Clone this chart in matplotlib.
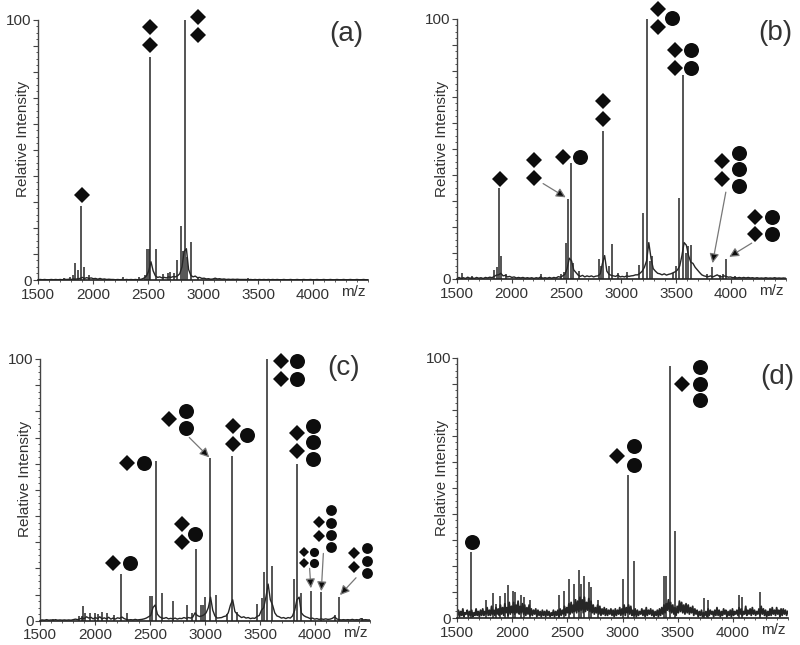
import numpy as np
import matplotlib
matplotlib.use("Agg")
import matplotlib.pyplot as plt
from matplotlib.ticker import MultipleLocator, FixedLocator

plt.rcParams['font.family'] = ['Liberation Sans', 'DejaVu Sans']

INK = '#262626'
TXT = '#333333'

# sticks (m/z, relative intensity)
mz_a = [1735, 1790, 1815, 1836, 1867, 1891, 1915, 1960, 2270, 2420, 2470, 2488, 2505, 2518, 2570,
        2640, 2680, 2700, 2735, 2760, 2797, 2821, 2836, 2855, 2891, 2950, 3410]
int_a = [0.8, 1.0, 1.8, 6.5, 4.0, 28.5, 5.0, 1.8, 1.0, 1.0, 2.0, 11.8, 11.8, 85.7, 12.0,
         2.2, 2.8, 3.0, 2.5, 7.5, 20.6, 11.0, 100, 9.0, 14.4, 1.2, 0.8]

mz_b = [1550, 1640, 1840, 1865, 1885, 1900, 1950, 2270, 2450, 2480, 2500, 2515, 2545, 2565, 2615, 2794, 2815, 2833,
        2888, 2912, 2970, 3050, 3166, 3203, 3236, 3262, 3279, 3470, 3500, 3527, 3563, 3590, 3606, 3639,
        3780, 3827, 3900, 3930, 3957, 4040]
int_b = [2.2, 1.0, 3.5, 4.5, 35, 9.0, 2.0, 2.0, 1.8, 2.5, 14, 30.6, 44.5, 6.0, 3.0, 7.5, 5.0, 57,
         5.0, 13.5, 2.2, 2.5, 5.5, 25.5, 100, 7.0, 9.0, 2.2, 5.0, 31, 78.5, 10, 12.5, 13.0,
         2.0, 4.5, 1.5, 2.0, 7.5, 1.0]

mz_c = [1620, 1850, 1880, 1894, 1910, 1950, 2000, 2030, 2065, 2110, 2170, 2233, 2290, 2503, 2521, 2551, 2612,
        2706, 2836, 2880, 2918, 2964, 2985, 3003, 3045, 3097, 3200, 3245, 3290, 3476, 3518, 3536, 3566,
        3612, 3809, 3833, 3873, 3964, 4057, 4180, 4218, 4430]
int_c = [0.8, 1.8, 1.8, 5.5, 3.0, 2.8, 2.8, 2.5, 3.5, 3.0, 2.0, 18, 3.0, 9.5, 9.5, 61, 10.5,
         7.5, 6.0, 3.0, 27.5, 6.0, 6.0, 9.0, 62, 10, 2.5, 63, 3.5, 6.5, 8.5, 18.5, 100,
         21, 16, 60, 10.5, 11.5, 11, 2.0, 9, 1.2]

mz_d = [1627, 1757, 1824, 1850, 1888, 1930, 1958, 2003, 2025, 2075, 2110, 2160, 2424, 2467, 2512, 2557, 2603, 2625, 2651, 2697, 2710,
        2780, 3009, 3048, 3100, 3373, 3394, 3427, 3479, 3736, 3780, 4057, 4087, 4245]
int_d = [25.3, 7.0, 9.5, 5.5, 8.5, 9.5, 12.5, 10.5, 10, 9.0, 8.0, 7.0, 9.0, 10.5, 15, 13, 18.5, 13, 16, 14, 12,
         7, 15, 55, 22, 16, 16, 97, 33.5, 7.5, 7, 9, 8, 10]

# baselines, one value every 20 m/z from 1500 (a, b, c) and every 10 m/z (d)
base_a = [0.1, 0.2, 0.1, 0.2, 0.1, 0.1, 0.2, 0.1, 0.2, 0.1,
          0.2, 0.1, 0.3, 0.2, 0.3, 0.2, 0.4, 0.3, 0.5, 0.6,
          1.0, 0.6, 0.9, 0.6, 0.8, 0.5, 0.6, 0.3, 0.6, 0.3,
          0.4, 0.2, 0.3, 0.2, 0.2, 0.1, 0.2, 0.1, 0.2, 0.1,
          0.2, 0.1, 0.2, 0.1, 0.2, 0.1, 0.2, 0.4, 0.8, 1.6,
          3.5, 7.0, 3.5, 1.6, 1.0, 1.2, 0.8, 1.0, 0.8, 1.2,
          1.0, 1.3, 1.2, 1.6, 2.4, 5.0, 11, 12, 4.0, 1.8,
          1.2, 1.5, 0.9, 1.0, 0.6, 0.7, 0.4, 0.5, 0.3, 0.4,
          0.7, 0.4, 0.5, 0.3, 0.4, 0.2, 0.3, 0.2, 0.3, 0.2,
          0.3, 0.2, 0.2, 0.2, 0.2, 0.1, 0.2, 0.1, 0.2, 0.1,
          0.2, 0.1, 0.2, 0.1, 0.2, 0.1, 0.2, 0.1, 0.2, 0.1,
          0.1, 0.2, 0.1, 0.1, 0.2, 0.1, 0.1, 0.2, 0.1, 0.1,
          0.2, 0.1, 0.1, 0.2, 0.1, 0.1, 0.2, 0.1, 0.1, 0.2,
          0.1, 0.1, 0.2, 0.1, 0.1, 0.2, 0.1, 0.1, 0.2, 0.1,
          0.1, 0.2, 0.1, 0.1, 0.2, 0.1, 0.1, 0.2, 0.1, 0.1]

base_b = [0.3, 0.6, 0.2, 0.5, 0.2, 0.7, 0.3, 0.5, 0.2, 0.6,
          0.3, 0.5, 0.2, 0.6, 0.4, 0.7, 0.5, 1.0, 1.5, 1.6,
          2.2, 1.2, 1.4, 0.8, 1.0, 0.6, 0.8, 0.4, 0.6, 0.4,
          0.6, 0.3, 0.5, 0.3, 0.5, 0.2, 0.5, 0.3, 0.8, 0.3,
          0.5, 0.3, 0.6, 0.3, 0.6, 0.4, 0.9, 0.7, 1.2, 1.8,
          4.0, 8.0, 7.0, 3.5, 2.5, 1.5, 1.0, 1.4, 0.8, 1.2,
          0.9, 1.2, 0.8, 1.1, 1.2, 2.0, 6.0, 9.0, 3.0, 1.8,
          1.4, 1.2, 1.0, 1.5, 0.8, 1.0, 0.8, 1.2, 1.0, 1.2,
          1.3, 1.6, 1.6, 2.2, 3.0, 4.5, 7.0, 14, 8.0, 4.0,
          3.0, 2.2, 2.0, 1.6, 2.0, 1.5, 1.8, 2.0, 2.4, 2.8,
          3.5, 5.0, 9.0, 14, 13, 9.0, 6.5, 6.0, 4.5, 3.5,
          2.5, 1.6, 1.2, 1.0, 0.9, 1.2, 0.8, 1.2, 1.6, 1.0,
          0.8, 1.2, 1.0, 0.7, 0.8, 0.5, 0.6, 0.4, 0.6, 0.4,
          0.6, 0.4, 0.6, 0.4, 0.5, 0.3, 0.5, 0.3, 0.4, 0.3,
          0.5, 0.3, 0.4, 0.3, 0.5, 0.3, 0.4, 0.3, 0.4, 0.3]

base_c = [0.2, 0.3, 0.2, 0.4, 0.2, 0.3, 0.2, 0.4, 0.2, 0.3,
          0.2, 0.3, 0.2, 0.3, 0.2, 0.4, 0.6, 0.4, 0.7, 1.0,
          0.8, 1.5, 1.0, 1.3, 0.7, 1.2, 0.8, 1.5, 0.7, 1.1,
          0.7, 1.3, 0.6, 1.0, 0.6, 1.1, 0.9, 1.4, 0.8, 0.5,
          0.3, 0.4, 0.3, 0.5, 0.3, 0.4, 0.5, 0.7, 1.0, 1.5,
          2.0, 5.0, 6.0, 2.5, 1.5, 1.0, 0.9, 1.2, 0.7, 0.9,
          0.7, 1.0, 0.6, 0.9, 0.8, 1.2, 0.9, 1.2, 1.0, 1.4,
          3.0, 2.0, 1.6, 1.8, 2.2, 3.0, 5.0, 9.0, 4.0, 1.8,
          1.0, 1.1, 1.2, 1.6, 1.8, 3.0, 6.0, 8.0, 3.5, 2.5,
          1.8, 1.2, 1.5, 1.0, 1.2, 0.8, 1.0, 0.9, 1.6, 2.0,
          4.0, 5.0, 9.0, 14, 8.0, 6.0, 3.0, 1.8, 1.5, 1.0,
          1.2, 0.8, 1.2, 1.0, 1.8, 4.0, 8.0, 9.0, 3.0, 2.0,
          1.5, 1.2, 0.8, 1.0, 0.6, 0.8, 0.5, 0.7, 0.5, 0.7,
          0.5, 0.6, 0.9, 1.5, 0.7, 0.4, 0.3, 0.4, 0.3, 0.4,
          0.3, 0.5, 0.3, 0.4, 0.3, 0.8, 0.3, 0.4, 0.3, 0.3]

base_d = [1, 3, 0.5, 2.5, 1, 3.5, 0.5, 2, 1.5, 3, 0.5, 2.5, 1, 3, 0.5, 2, 1, 3.5, 1, 2.5,
          0.5, 3, 1, 3.5, 1, 2.5, 1.5, 4, 1, 3, 1, 4.5, 1.5, 3, 1, 4, 1.5, 3.5, 1, 5,
          1.5, 4, 1, 5.5, 2, 4, 1, 6, 1.5, 4.5, 2, 6, 1.5, 5, 2, 6.5, 1.5, 4.5, 2, 5.5,
          1.5, 5, 1, 4, 1.5, 5, 1, 3.5, 1, 3, 1.5, 3.5, 0.5, 3, 1, 2.5, 0.5, 3, 1, 2.5,
          0.5, 3, 1, 2.5, 0.5, 2, 1, 3, 0.5, 2.5, 1, 3, 0.5, 3.5, 1, 3, 1.5, 4.5, 1, 4,
          2, 5.5, 1.5, 6, 2, 5, 2.5, 7, 2, 6.5, 2.5, 8, 3, 7, 2, 8, 2.5, 6, 3, 7.5,
          2.5, 6.5, 2, 5, 1.5, 4, 2, 5, 1.5, 4.5, 1, 3.5, 1.5, 4, 1, 3.5, 1, 3, 1.5, 3.5,
          1, 3, 0.5, 3.5, 1, 3, 1.5, 4, 1, 3.5, 1.5, 5, 1, 4, 2, 5, 1.5, 4.5, 1, 3,
          1, 3.5, 0.5, 3, 1, 2.5, 1.5, 3.5, 1, 3, 0.5, 4, 1, 3, 1.5, 3.5, 1, 3, 0.5, 2.5,
          1, 3, 0.5, 3.5, 1, 4, 1.5, 5, 2, 5.5, 3, 7, 2.5, 6, 2, 5, 1.5, 4, 1, 4.5,
          2, 6.5, 2.5, 6, 2, 5, 1.5, 5.5, 2, 5, 1.5, 4, 2, 4.5, 1, 3.5, 1.5, 3, 0.5, 2.5,
          1, 3, 0.5, 2, 1, 2.5, 0.5, 3.5, 1, 3, 1.5, 2.5, 0.5, 3, 1, 4, 1, 3, 0.5, 2.5,
          1, 3.5, 1.5, 3, 0.5, 2.5, 1, 3, 0.5, 3.5, 1, 2.5, 1.5, 3, 1, 4, 1.5, 3.5, 1, 2.5,
          1.5, 4.5, 1, 3, 1.5, 3.5, 1, 4, 1.5, 3, 1, 2.5, 1.5, 3.5, 1, 4.5, 1.5, 3.5, 1, 3,
          0.5, 2.5, 1, 3.5, 1, 4, 1.5, 3, 1, 4, 1.5, 3, 0.5, 3.5, 1, 3.5, 1.5, 3, 1, 2.5]

tick_mz = [1500, 2000, 2500, 3000, 3500, 4000]
tick_int = [0, 10, 20, 30, 40, 50, 60, 70, 80, 90, 100]
tick_int_labels = ['0', '', '', '', '', '', '', '', '', '', '100']
panel_labels = ['(a)', '(b)', '(c)', '(d)']

# glycan symbols in data units of their own panel
dia_a = [(1900, 32.6), (2518, 97), (2518, 90.2), (2957, 101), (2957, 94)]
cir_a = []
dia_b = [(1897, 38.5), (2203, 45.8), (2203, 38.9), (2470, 47.1), (2836, 68.5), (2836, 61.5),
         (3339, 103.8), (3339, 96.8), (3491, 88), (3491, 81), (3921, 45.5), (3921, 38.5),
         (4224, 24), (4224, 17.3)]
cir_b = [(2621, 47.1), (3460, 100.3), (3636, 88), (3636, 81), (4072, 48.5), (4072, 42.3),
         (4072, 35.9), (4372, 24), (4372, 17.3)]
dia_c = [(2164, 22), (2294, 60.3), (2673, 77), (2788, 36.8), (2788, 29.9), (3254, 74.4),
         (3254, 67.5), (3688, 99.4), (3688, 92.5), (3833, 71.6), (3833, 64.7)]
cir_c = [(2315, 22), (2448, 60.3), (2827, 80.3), (2827, 73.5), (2909, 33.2), (3379, 71),
         (3836, 99.4), (3836, 92.5), (3985, 74.5), (3985, 68.2), (3985, 61.7)]
# smaller symbols in (c)
small_dia_c = [(3900, 26.4), (3900, 22.2)]
small_cir_c = [(3994, 26.4), (3994, 22.2)]
mid_dia_c = [(4039, 37.7), (4039, 32.5), (4357, 25.7), (4357, 20.5)]
mid_cir_c = [(4148, 42.2), (4148, 37.3), (4148, 32.6), (4148, 28.2),
             (4469, 27.9), (4469, 23), (4469, 18.2)]
dia_d = [(2951, 62.4), (3536, 90)]
cir_d = [(1633, 29.2), (3100, 65.9), (3100, 58.8), (3706, 96.5), (3706, 90), (3706, 83.6)]

# arrows: (from, to)
arrows_b = [((2288, 36.7), (2494, 31.4)), ((3954, 33.4), (3833, 6.1)), ((4190, 13.8), (3985, 8.5))]
arrows_c = [((2857, 70), (3039, 62.4)), ((3951, 20), (3963, 12.4)),
            ((4076, 25.7), (4057, 11.3)), ((4373, 16.4), (4227, 9.8))]


def symbols(ax, pts, marker, size):
    if pts:
        xs, ys = zip(*pts)
        ax.plot(xs, ys, ls='none', marker=marker, ms=size, mfc='#0d0d0d', mec='#0d0d0d',
                mew=0, clip_on=False, zorder=5)


def spectrum(rect, mz, inten, base, label, label_pos, dia, cir, arrows=(), mz_label=4370, base_lw=1.0):
    # rect is left, top, right, bottom in pixels of the 800x645 picture
    left, top, right, bottom = rect
    ax = fig.add_axes([left / 800, 1 - bottom / 645, (right - left) / 800, (bottom - top) / 645])
    base_mz = np.linspace(1500, 4500, len(base))
    ax.plot(base_mz, base, color=INK, lw=base_lw, zorder=2)
    ax.vlines(mz, 0, inten, color=INK, lw=1.1, zorder=3)

    ax.set_xlim(1500, 4500)
    ax.set_ylim(0, 100)
    for s in ['top', 'right']:
        ax.spines[s].set_visible(False)
    ax.spines['left'].set_color('#444444')
    ax.spines['left'].set_linewidth(1.0)
    ax.spines['bottom'].set_color('#222222')
    ax.spines['bottom'].set_linewidth(1.2)
    ax.set_xticks(tick_mz)
    ax.xaxis.set_minor_locator(MultipleLocator(100))
    ax.set_yticks(tick_int, tick_int_labels)
    ax.yaxis.set_minor_locator(FixedLocator(np.arange(0, 100, 2.5)))
    ax.tick_params(axis='x', which='major', length=3, width=0.8, color='#444444',
                   labelsize=11, labelcolor=TXT, pad=2.5)
    ax.tick_params(axis='x', which='minor', length=1.5, width=0.6, color='#444444')
    ax.tick_params(axis='y', which='major', length=3.5, width=0.8, color='#444444',
                   labelsize=11, labelcolor=TXT, pad=1)
    ax.tick_params(axis='y', which='minor', length=1.8, width=0.7, color='#555555')
    ax.set_ylabel('Relative Intensity', fontsize=11, color=TXT)
    ax.yaxis.set_label_coords(-8 / (right - left), 0.54)
    ax.text(mz_label, -4.6, 'm/z', fontsize=11, color=TXT, ha='center', va='center', clip_on=False)
    ax.text(label_pos[0], label_pos[1], label, fontsize=20, color=TXT, ha='center', va='center')

    symbols(ax, dia, 'D', 8.4)
    symbols(ax, cir, 'o', 10.8)
    for start, end in arrows:
        ax.annotate('', xy=end, xytext=start,
                    arrowprops=dict(arrowstyle='-|>', mutation_scale=14, lw=0.9,
                                    edgecolor='#777777', facecolor='#0d0d0d',
                                    shrinkA=0, shrinkB=0))
    return ax


fig = plt.figure(figsize=(8.0, 6.45), dpi=100)

spectrum((38, 19.5, 368, 280), mz_a, int_a, base_a, panel_labels[0], (4306, 94.6), dia_a, cir_a)
spectrum((456.7, 19, 785.7, 279), mz_b, int_b, base_b, panel_labels[1], (4409, 94.5), dia_b, cir_b, arrows_b)
ax_c = spectrum((40, 359, 370, 620.7), mz_c, int_c, base_c, panel_labels[2], (4263, 96.4), dia_c, cir_c, arrows_c)
symbols(ax_c, small_dia_c, 'D', 5.0)
symbols(ax_c, small_cir_c, 'o', 6.6)
symbols(ax_c, mid_dia_c, 'D', 6.2)
symbols(ax_c, mid_cir_c, 'o', 7.8)
spectrum((457.3, 357.7, 787.7, 618), mz_d, int_d, base_d, panel_labels[3], (4402, 92.7), dia_d, cir_d, base_lw=1.3)

fig.savefig('out.png', dpi=100)
